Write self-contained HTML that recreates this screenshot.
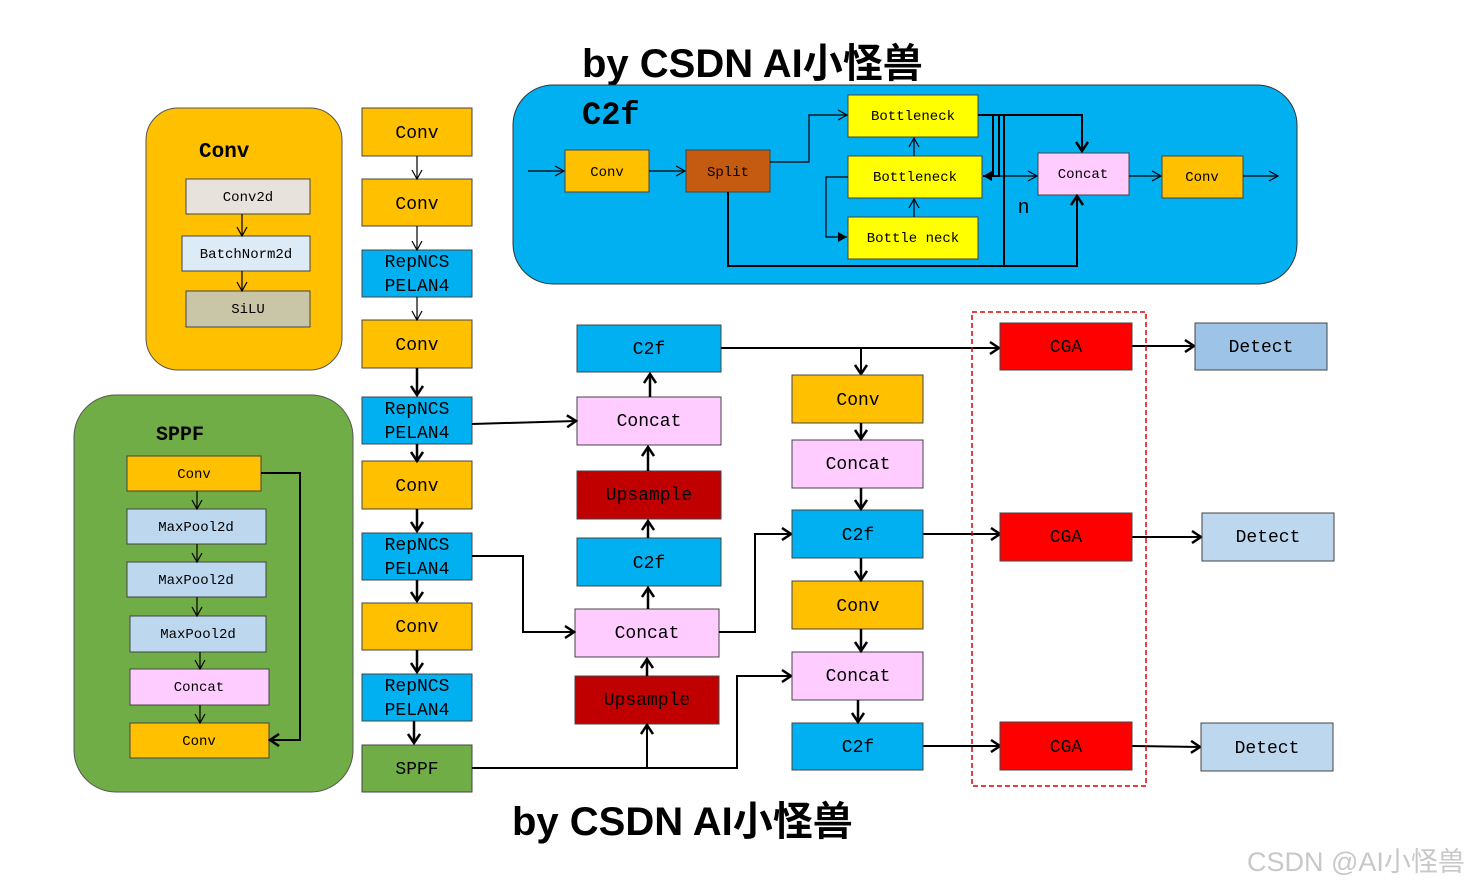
<!DOCTYPE html>
<html><head><meta charset="utf-8"><style>
body{margin:0;background:#fff;}
svg text{font-family:"Liberation Mono",monospace;}
.t{font-family:"Liberation Sans","Noto Sans CJK SC",sans-serif;font-weight:bold;}
</style></head><body>
<svg width="1466" height="887" viewBox="0 0 1466 887" xmlns="http://www.w3.org/2000/svg">
<defs>
<marker id="o" markerWidth="12" markerHeight="12" refX="10" refY="6" orient="auto" markerUnits="userSpaceOnUse"><path d="M1,1 L10,6 L1,11" fill="none" stroke="#000" stroke-width="1.2"/></marker>
<marker id="k" markerWidth="14" markerHeight="14" refX="11" refY="7" orient="auto" markerUnits="userSpaceOnUse"><path d="M2,1 L11,7 L2,13" fill="none" stroke="#000" stroke-width="2.5"/></marker>
<marker id="f" markerWidth="12" markerHeight="12" refX="10" refY="6" orient="auto" markerUnits="userSpaceOnUse"><path d="M1,1 L10,6 L1,11 Z" fill="#000"/></marker>
</defs>

<text class="t" x="582" y="77" font-size="40">by CSDN AI小怪兽</text>
<text class="t" x="512" y="835" font-size="40">by CSDN AI小怪兽</text>
<text x="1247" y="871" font-size="27" fill="#c8c8c8" style="font-family:'Liberation Sans','Noto Sans CJK SC',sans-serif">CSDN @AI小怪兽</text>

<!-- Conv panel -->
<rect x="146" y="108" width="196" height="262" rx="32" fill="#FFC000" stroke="#555"/>
<text x="199" y="157" font-size="21" font-weight="bold">Conv</text>
<g stroke="#444" font-size="14" text-anchor="middle">
<rect x="186" y="179" width="124" height="35" fill="#E7E3DC"/>
<rect x="182" y="236" width="128" height="35" fill="#DDEBF7"/>
<rect x="186" y="291" width="124" height="36" fill="#C9C6A8"/>
</g>
<g font-size="14" text-anchor="middle">
<text x="248" y="201">Conv2d</text><text x="246" y="258">BatchNorm2d</text><text x="248" y="313">SiLU</text>
</g>
<g stroke="#000" stroke-width="1.2" marker-end="url(#o)">
<line x1="242" y1="214" x2="242" y2="236"/><line x1="242" y1="271" x2="242" y2="291"/>
</g>

<!-- SPPF panel -->
<rect x="74" y="395" width="279" height="397" rx="42" fill="#70AD47" stroke="#555"/>
<text x="156" y="440" font-size="20" font-weight="bold">SPPF</text>
<g stroke="#444">
<rect x="127" y="456" width="134" height="35" fill="#FFC000"/>
<rect x="127" y="509" width="139" height="35" fill="#BDD7EE"/>
<rect x="127" y="562" width="139" height="35" fill="#BDD7EE"/>
<rect x="130" y="616" width="136" height="36" fill="#BDD7EE"/>
<rect x="130" y="669" width="139" height="36" fill="#FFCCFF"/>
<rect x="130" y="723" width="139" height="35" fill="#FFC000"/>
</g>
<g font-size="14" text-anchor="middle">
<text x="194" y="478">Conv</text><text x="196" y="531">MaxPool2d</text><text x="196" y="584">MaxPool2d</text>
<text x="198" y="638">MaxPool2d</text><text x="199" y="691">Concat</text><text x="199" y="745">Conv</text>
</g>
<g stroke="#000" stroke-width="1.2" marker-end="url(#o)" fill="none">
<line x1="197" y1="491" x2="197" y2="509"/><line x1="197" y1="544" x2="197" y2="562"/>
<line x1="197" y1="597" x2="197" y2="616"/><line x1="200" y1="652" x2="200" y2="669"/>
<line x1="200" y1="705" x2="200" y2="723"/>
</g>
<path d="M261,473 H300 V740 H270" fill="none" stroke="#000" stroke-width="2" marker-end="url(#k)"/>

<!-- Column 1 -->
<g stroke="#444">
<rect x="362" y="108" width="110" height="48" fill="#FFC000"/>
<rect x="362" y="179" width="110" height="47" fill="#FFC000"/>
<rect x="362" y="250" width="110" height="47" fill="#00B0F0"/>
<rect x="362" y="320" width="110" height="48" fill="#FFC000"/>
<rect x="362" y="397" width="110" height="47" fill="#00B0F0"/>
<rect x="362" y="461" width="110" height="48" fill="#FFC000"/>
<rect x="362" y="533" width="110" height="47" fill="#00B0F0"/>
<rect x="362" y="603" width="110" height="47" fill="#FFC000"/>
<rect x="362" y="674" width="110" height="47" fill="#00B0F0"/>
<rect x="362" y="745" width="110" height="47" fill="#70AD47"/>
</g>
<g font-size="18" text-anchor="middle">
<text x="417" y="138">Conv</text><text x="417" y="209">Conv</text>
<text x="417" y="267">RepNCS</text><text x="417" y="291">PELAN4</text>
<text x="417" y="350">Conv</text>
<text x="417" y="414">RepNCS</text><text x="417" y="438">PELAN4</text>
<text x="417" y="491">Conv</text>
<text x="417" y="550">RepNCS</text><text x="417" y="574">PELAN4</text>
<text x="417" y="632">Conv</text>
<text x="417" y="691">RepNCS</text><text x="417" y="715">PELAN4</text>
<text x="417" y="774">SPPF</text>
</g>
<g stroke="#000" stroke-width="1.2" marker-end="url(#o)">
<line x1="417" y1="156" x2="417" y2="179"/><line x1="417" y1="226" x2="417" y2="250"/><line x1="417" y1="297" x2="417" y2="320"/>
</g>
<g stroke="#000" stroke-width="2.5" marker-end="url(#k)" fill="none">
<line x1="417" y1="368" x2="417" y2="395"/><line x1="417" y1="444" x2="417" y2="461"/>
<line x1="417" y1="509" x2="417" y2="531"/><line x1="417" y1="580" x2="417" y2="601"/>
<line x1="417" y1="650" x2="417" y2="672"/><line x1="414" y1="721" x2="414" y2="743"/>
</g>

<!-- Column 2 -->
<g stroke="#444">
<rect x="577" y="325" width="144" height="47" fill="#00B0F0"/>
<rect x="577" y="397" width="144" height="48" fill="#FFCCFF"/>
<rect x="577" y="471" width="144" height="48" fill="#C00000"/>
<rect x="577" y="538" width="144" height="48" fill="#00B0F0"/>
<rect x="575" y="609" width="144" height="48" fill="#FFCCFF"/>
<rect x="575" y="676" width="144" height="48" fill="#C00000"/>
</g>
<g font-size="18" text-anchor="middle">
<text x="649" y="354">C2f</text><text x="649" y="426">Concat</text><text x="649" y="500">Upsample</text>
<text x="649" y="568">C2f</text><text x="647" y="638">Concat</text><text x="647" y="705">Upsample</text>
</g>
<g stroke="#000" stroke-width="2.5" marker-end="url(#k)">
<line x1="650" y1="397" x2="650" y2="374"/><line x1="648" y1="471" x2="648" y2="447"/>
<line x1="648" y1="538" x2="648" y2="521"/><line x1="648" y1="609" x2="648" y2="588"/>
<line x1="647" y1="676" x2="647" y2="659"/>
</g>
<g stroke="#000" stroke-width="2" fill="none" marker-end="url(#k)">
<path d="M472,424 L576,421"/>
<path d="M472,556 H523 V632 H574"/>
<path d="M719,632 H755 V534 H791"/>
<path d="M472,768 H737 V676 H791"/>
<path d="M647,768 V725"/>
<path d="M721,348 L999,348"/>
<path d="M861,348 V374"/>
<path d="M923,534 H1000"/>
<path d="M923,746 H1000"/>
<path d="M1132,346 H1194"/>
<path d="M1132,537 H1201"/>
<path d="M1132,746 L1200,747"/>
</g>

<!-- Column 3 -->
<g stroke="#444">
<rect x="792" y="375" width="131" height="48" fill="#FFC000"/>
<rect x="792" y="440" width="131" height="48" fill="#FFCCFF"/>
<rect x="792" y="510" width="131" height="48" fill="#00B0F0"/>
<rect x="792" y="581" width="131" height="48" fill="#FFC000"/>
<rect x="792" y="652" width="131" height="48" fill="#FFCCFF"/>
<rect x="792" y="723" width="131" height="47" fill="#00B0F0"/>
</g>
<g font-size="18" text-anchor="middle">
<text x="858" y="405">Conv</text><text x="858" y="469">Concat</text><text x="858" y="540">C2f</text>
<text x="858" y="611">Conv</text><text x="858" y="681">Concat</text><text x="858" y="752">C2f</text>
</g>
<g stroke="#000" stroke-width="2.5" marker-end="url(#k)">
<line x1="861" y1="423" x2="861" y2="439"/><line x1="861" y1="488" x2="861" y2="509"/>
<line x1="861" y1="558" x2="861" y2="580"/><line x1="861" y1="629" x2="861" y2="651"/>
<line x1="858" y1="700" x2="858" y2="722"/>
</g>

<!-- CGA / Detect -->
<rect x="972" y="312" width="174" height="474" fill="none" stroke="#E00000" stroke-width="1.5" stroke-dasharray="5,3"/>
<g stroke="#444">
<rect x="1000" y="323" width="132" height="47" fill="#FF0000"/>
<rect x="1000" y="513" width="132" height="48" fill="#FF0000"/>
<rect x="1000" y="722" width="132" height="48" fill="#FF0000"/>
<rect x="1195" y="323" width="132" height="47" fill="#9DC3E6"/>
<rect x="1202" y="513" width="132" height="48" fill="#BDD7EE"/>
<rect x="1201" y="723" width="132" height="48" fill="#BDD7EE"/>
</g>
<g font-size="18" text-anchor="middle">
<text x="1066" y="352">CGA</text><text x="1066" y="542">CGA</text><text x="1066" y="752">CGA</text>
<text x="1261" y="352">Detect</text><text x="1268" y="542">Detect</text><text x="1267" y="753">Detect</text>
</g>

<!-- C2f panel -->
<rect x="513" y="85" width="784" height="199" rx="40" fill="#00B0F0" stroke="#333"/>
<text x="582" y="124" font-size="32" font-weight="bold">C2f</text>
<g stroke="#444">
<rect x="565" y="150" width="84" height="42" fill="#FFC000"/>
<rect x="686" y="150" width="84" height="42" fill="#C55A11"/>
<rect x="848" y="95" width="130" height="42" fill="#FFFF00"/>
<rect x="848" y="156" width="134" height="42" fill="#FFFF00"/>
<rect x="848" y="217" width="130" height="42" fill="#FFFF00"/>
<rect x="1038" y="153" width="91" height="42" fill="#FFCCFF"/>
<rect x="1162" y="156" width="81" height="42" fill="#FFC000"/>
</g>
<g font-size="14" text-anchor="middle">
<text x="607" y="176">Conv</text><text x="728" y="176">Split</text>
<text x="913" y="120">Bottleneck</text><text x="915" y="181">Bottleneck</text><text x="913" y="242">Bottle neck</text>
<text x="1083" y="178">Concat</text><text x="1202" y="181">Conv</text>
</g>
<text x="1018" y="213" font-size="20" style="font-family:'Liberation Sans',sans-serif">n</text>
<g stroke="#000" stroke-width="1.2" fill="none" marker-end="url(#o)">
<line x1="528" y1="171" x2="564" y2="171"/>
<line x1="649" y1="171" x2="685" y2="171"/>
<path d="M770,162 H809 V115 H847"/>
<line x1="914" y1="217" x2="914" y2="199"/>
<line x1="914" y1="156" x2="914" y2="138"/>
<line x1="985" y1="176" x2="1037" y2="176"/>
<line x1="1129" y1="176" x2="1161" y2="176"/>
<line x1="1243" y1="176" x2="1278" y2="176"/>
</g>
<g stroke="#000" stroke-width="2" fill="none">
<path d="M978,115 H1082 V151" marker-end="url(#k)"/>
<path d="M993,115 V176"/>
<path d="M999,115 V176 H983" marker-end="url(#f)"/>
<path d="M1004,115 V266"/>
<path d="M728,192 V266 H1077 V196" marker-end="url(#k)"/>
</g>
<path d="M848,177 H826 V237 H847" fill="none" stroke="#000" stroke-width="1.2" marker-end="url(#f)"/>
</svg>
</body></html>
